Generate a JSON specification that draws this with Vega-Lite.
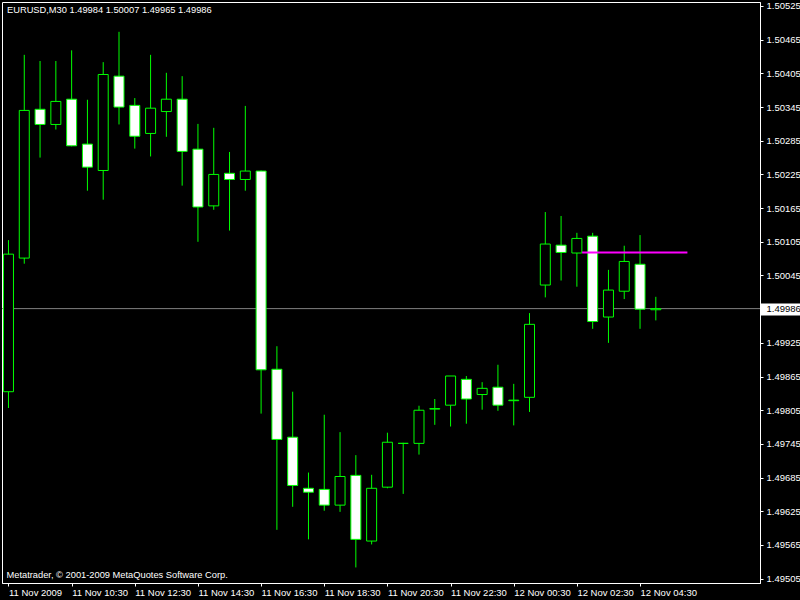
{
  "$schema": "https://vega.github.io/schema/vega-lite/v6.json",
  "width": 758,
  "height": 581,
  "autosize": "none",
  "padding": {"left": 2, "top": 2, "right": 40, "bottom": 17},
  "background": "black",
  "title": {
    "text": "EURUSD,M30  1.49984 1.50007 1.49965 1.49986",
    "anchor": "start",
    "frame": "group",
    "orient": "top",
    "offset": -18,
    "dx": 5,
    "baseline": "middle",
    "color": "white",
    "font": "Liberation Sans",
    "fontSize": 9.3,
    "fontWeight": "normal"
  },
  "datasets": {
    "bars": [
      {"t": "2009-11-11T08:30", "o": 1.49838, "h": 1.50108, "l": 1.49809, "c": 1.50083},
      {"t": "2009-11-11T09:00", "o": 1.50076, "h": 1.50438, "l": 1.50066, "c": 1.50339},
      {"t": "2009-11-11T09:30", "o": 1.50341, "h": 1.50427, "l": 1.50255, "c": 1.50314},
      {"t": "2009-11-11T10:00", "o": 1.50314, "h": 1.50427, "l": 1.50305, "c": 1.50355},
      {"t": "2009-11-11T10:30", "o": 1.50359, "h": 1.50446, "l": 1.50275, "c": 1.50276},
      {"t": "2009-11-11T11:00", "o": 1.50279, "h": 1.50358, "l": 1.50196, "c": 1.50238},
      {"t": "2009-11-11T11:30", "o": 1.50232, "h": 1.50425, "l": 1.50180, "c": 1.50403},
      {"t": "2009-11-11T12:00", "o": 1.50400, "h": 1.50479, "l": 1.50314, "c": 1.50345},
      {"t": "2009-11-11T12:30", "o": 1.50348, "h": 1.50361, "l": 1.50271, "c": 1.50293},
      {"t": "2009-11-11T13:00", "o": 1.50298, "h": 1.50438, "l": 1.50257, "c": 1.50343},
      {"t": "2009-11-11T13:30", "o": 1.50337, "h": 1.50406, "l": 1.50292, "c": 1.50359},
      {"t": "2009-11-11T14:00", "o": 1.50359, "h": 1.50400, "l": 1.50205, "c": 1.50266},
      {"t": "2009-11-11T14:30", "o": 1.50270, "h": 1.50315, "l": 1.50105, "c": 1.50167},
      {"t": "2009-11-11T15:00", "o": 1.50169, "h": 1.50308, "l": 1.50162, "c": 1.50225},
      {"t": "2009-11-11T15:30", "o": 1.50227, "h": 1.50265, "l": 1.50125, "c": 1.50216},
      {"t": "2009-11-11T16:00", "o": 1.50216, "h": 1.50347, "l": 1.50196, "c": 1.50231},
      {"t": "2009-11-11T16:30", "o": 1.50231, "h": 1.50232, "l": 1.49799, "c": 1.49877},
      {"t": "2009-11-11T17:00", "o": 1.49878, "h": 1.49919, "l": 1.49592, "c": 1.49753},
      {"t": "2009-11-11T17:30", "o": 1.49757, "h": 1.49838, "l": 1.49633, "c": 1.49671},
      {"t": "2009-11-11T18:00", "o": 1.49666, "h": 1.49694, "l": 1.49575, "c": 1.49659},
      {"t": "2009-11-11T18:30", "o": 1.49664, "h": 1.49797, "l": 1.49626, "c": 1.49636},
      {"t": "2009-11-11T19:00", "o": 1.49636, "h": 1.49766, "l": 1.49624, "c": 1.49687},
      {"t": "2009-11-11T19:30", "o": 1.49689, "h": 1.49725, "l": 1.49525, "c": 1.49575},
      {"t": "2009-11-11T20:00", "o": 1.49572, "h": 1.49690, "l": 1.49566, "c": 1.49666},
      {"t": "2009-11-11T20:30", "o": 1.49668, "h": 1.49765, "l": 1.49666, "c": 1.49748},
      {"t": "2009-11-11T21:00", "o": 1.49746, "h": 1.49747, "l": 1.49656, "c": 1.49746},
      {"t": "2009-11-11T21:30", "o": 1.49746, "h": 1.49813, "l": 1.49726, "c": 1.49805},
      {"t": "2009-11-11T22:00", "o": 1.49807, "h": 1.49825, "l": 1.49779, "c": 1.49808},
      {"t": "2009-11-11T22:30", "o": 1.49814, "h": 1.49866, "l": 1.49776, "c": 1.49866},
      {"t": "2009-11-11T23:00", "o": 1.49860, "h": 1.49866, "l": 1.49781, "c": 1.49825},
      {"t": "2009-11-11T23:30", "o": 1.49833, "h": 1.49855, "l": 1.49806, "c": 1.49844},
      {"t": "2009-11-12T00:00", "o": 1.49846, "h": 1.49886, "l": 1.49804, "c": 1.49814},
      {"t": "2009-11-12T00:30", "o": 1.49822, "h": 1.49852, "l": 1.49778, "c": 1.49823},
      {"t": "2009-11-12T01:00", "o": 1.49828, "h": 1.49978, "l": 1.49802, "c": 1.49958},
      {"t": "2009-11-12T01:30", "o": 1.50028, "h": 1.50158, "l": 1.50006, "c": 1.50101},
      {"t": "2009-11-12T02:00", "o": 1.50099, "h": 1.50151, "l": 1.50036, "c": 1.50086},
      {"t": "2009-11-12T02:30", "o": 1.50085, "h": 1.50121, "l": 1.50025, "c": 1.50111},
      {"t": "2009-11-12T03:00", "o": 1.50115, "h": 1.50121, "l": 1.49950, "c": 1.49963},
      {"t": "2009-11-12T03:30", "o": 1.49971, "h": 1.50055, "l": 1.49925, "c": 1.50019},
      {"t": "2009-11-12T04:00", "o": 1.50017, "h": 1.50098, "l": 1.50003, "c": 1.50070},
      {"t": "2009-11-12T04:30", "o": 1.50065, "h": 1.50117, "l": 1.49950, "c": 1.49985},
      {"t": "2009-11-12T05:00", "o": 1.49984, "h": 1.50007, "l": 1.49965, "c": 1.49986}
    ]
  },
  "layer": [
    {
      "data": {"values": [{"bid": 1.49986}]},
      "mark": {"type": "rule", "color": "#808080", "strokeWidth": 1},
      "encoding": {
        "y": {
          "field": "bid",
          "type": "quantitative",
          "scale": {"domain": [1.494973, 1.505321], "nice": false, "zero": false},
          "axis": {
            "orient": "right",
            "title": null,
            "grid": false,
            "values": [1.49505, 1.49565, 1.49625, 1.49685, 1.49745, 1.49805, 1.49865, 1.49925, 1.49986, 1.50045, 1.50105, 1.50165, 1.50225, 1.50285, 1.50345, 1.50405, 1.50465, 1.50525],
            "tickCount": 40,
            "format": ".5f",
            "domainColor": "white",
            "tickColor": "white",
            "tickSize": {"condition": {"test": "datum.value == 1.49986", "value": 40}, "value": 3},
            "tickWidth": {"condition": {"test": "datum.value == 1.49986", "value": 12}, "value": 1},
            "labelColor": {"condition": {"test": "datum.value == 1.49986", "value": "black"}, "value": "white"},
            "labelPadding": {"condition": {"test": "datum.value == 1.49986", "value": -34}, "value": 3},
            "labelOverlap": false,
            "labelBound": false,
            "labelFlush": false,
            "labelFont": "Liberation Sans",
            "labelFontSize": 9.5
          }
        }
      }
    },
    {
      "data": {"name": "bars"},
      "mark": {"type": "rule", "color": "#00ff00", "strokeWidth": 1, "clip": true},
      "encoding": {
        "x": {
          "field": "t",
          "type": "temporal",
          "scale": {
            "domain": [
              {"year": 2009, "month": 11, "date": 11, "hours": 8, "minutes": 27, "seconds": 11, "milliseconds": 250},
              {"year": 2009, "month": 11, "date": 12, "hours": 8, "minutes": 8, "seconds": 26, "milliseconds": 250}
            ],
            "nice": false
          },
          "axis": {
            "values": [
              {"year": 2009, "month": 11, "date": 11, "hours": 8, "minutes": 30},
              {"year": 2009, "month": 11, "date": 11, "hours": 10, "minutes": 30},
              {"year": 2009, "month": 11, "date": 11, "hours": 12, "minutes": 30},
              {"year": 2009, "month": 11, "date": 11, "hours": 14, "minutes": 30},
              {"year": 2009, "month": 11, "date": 11, "hours": 16, "minutes": 30},
              {"year": 2009, "month": 11, "date": 11, "hours": 18, "minutes": 30},
              {"year": 2009, "month": 11, "date": 11, "hours": 20, "minutes": 30},
              {"year": 2009, "month": 11, "date": 11, "hours": 22, "minutes": 30},
              {"year": 2009, "month": 11, "date": 12, "hours": 0, "minutes": 30},
              {"year": 2009, "month": 11, "date": 12, "hours": 2, "minutes": 30},
              {"year": 2009, "month": 11, "date": 12, "hours": 4, "minutes": 30}
            ],
            "tickCount": 40,
            "labelExpr": "(hours(datum.value) == 8 && date(datum.value) == 11) ? '11 Nov 2009' : timeFormat(datum.value, '%d %b %H:%M')",
            "title": "Metatrader, © 2001-2009 MetaQuotes Software Corp.",
            "titleX": 4,
            "titleY": -9,
            "titleAlign": "left",
            "titleAnchor": "start",
            "titleBaseline": "middle",
            "titleColor": "white",
            "titleFont": "Liberation Sans",
            "titleFontSize": 9.3,
            "titleFontWeight": "normal",
            "grid": false,
            "domainColor": "white",
            "tickColor": "white",
            "tickSize": 3,
            "labelColor": "white",
            "labelAlign": "left",
            "labelBaseline": "top",
            "labelPadding": 1,
            "labelFlush": false,
            "labelOverlap": false,
            "labelFont": "Liberation Sans",
            "labelFontSize": 9.5
          }
        },
        "y": {"field": "l", "type": "quantitative"},
        "y2": {"field": "h"}
      }
    },
    {
      "data": {"name": "bars"},
      "mark": {"type": "bar", "size": 10, "stroke": "#00ff00", "strokeWidth": 1, "clip": true},
      "encoding": {
        "x": {"field": "t", "type": "temporal"},
        "y": {"field": "o", "type": "quantitative"},
        "y2": {"field": "c"},
        "fill": {"condition": {"test": "datum.c < datum.o", "value": "white"}, "value": "black"}
      }
    },
    {
      "data": {"values": [{"t1": "2009-11-12T02:40", "t2": "2009-11-12T06:00", "p": 1.50086}]},
      "mark": {"type": "rule", "color": "#ff00ff", "strokeWidth": 2},
      "encoding": {
        "x": {"field": "t1", "type": "temporal"},
        "x2": {"field": "t2"},
        "y": {"field": "p", "type": "quantitative"}
      }
    }
  ],
  "config": {
    "view": {"stroke": "white", "strokeWidth": 1, "fill": "black"},
    "axis": {"labelOverlap": false}
  }
}
